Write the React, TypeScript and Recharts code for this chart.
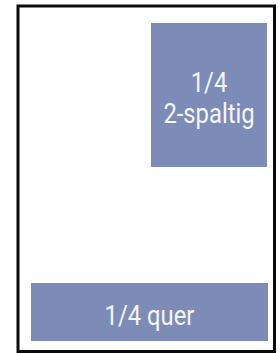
import { ComposedChart, XAxis, YAxis, ReferenceArea, Scatter } from "recharts";

// page units: the frame interior, origin top-left
const pageWidth = 256.5;
const pageHeight = 345.5;

const blockNames = ["1/4 2-spaltig", "1/4 quer"];
const blockLines = [["1/4", "2-spaltig"], ["1/4 quer"]];
const blockX1 = [133, 13];
const blockX2 = [249, 250];
const blockY1 = [17, 277];
const blockY2 = [161, 335];

const corners = [
  { x: 0, y: 0 },
  { x: pageWidth, y: pageHeight },
];

const BLOCK_COLOR = "#7d8bb7";

function BlockLabel({ viewBox, lines }: { viewBox?: any; lines: string[] }) {
  if (!viewBox) return null;
  const cx = viewBox.x + viewBox.width / 2;
  const cy = viewBox.y + viewBox.height / 2;
  const step = 31;
  const first = cy + 13 - ((lines.length - 1) * step) / 2;
  return (
    <g transform={`translate(${cx},0) scale(0.85,1)`}>
      {lines.map((l, i) => (
        <text
          key={l}
          x={0}
          y={first + i * step}
          textAnchor="middle"
          fill="#f5f6fa"
          fontFamily="Roboto, sans-serif"
          fontSize={28}
        >
          {l}
        </text>
      ))}
    </g>
  );
}

export default function App() {
  return (
    <div style={{ width: 280, height: 353 }}>
      <style>{"body{margin:0}"}</style>
      <ComposedChart
        width={280}
        height={353}
        data={corners}
        margin={{ top: 6, right: 5.5, bottom: 1.5, left: 18 }}
      >
        <XAxis dataKey="x" type="number" domain={[0, pageWidth]} hide />
        <YAxis dataKey="y" type="number" domain={[0, pageHeight]} reversed hide />
        <Scatter dataKey="y" isAnimationActive={false} shape={() => null} />
        <ReferenceArea
          x1={0}
          x2={pageWidth}
          y1={0}
          y2={pageHeight}
          fill="#fff"
          fillOpacity={1}
          stroke="#0a0a0a"
          strokeWidth={3}
        />
        {blockNames.map((name, i) => (
          <ReferenceArea
            key={name}
            x1={blockX1[i]}
            x2={blockX2[i]}
            y1={blockY1[i]}
            y2={blockY2[i]}
            fill={BLOCK_COLOR}
            fillOpacity={1}
            stroke="none"
            label={<BlockLabel lines={blockLines[i]} />}
          />
        ))}
      </ComposedChart>
    </div>
  );
}
